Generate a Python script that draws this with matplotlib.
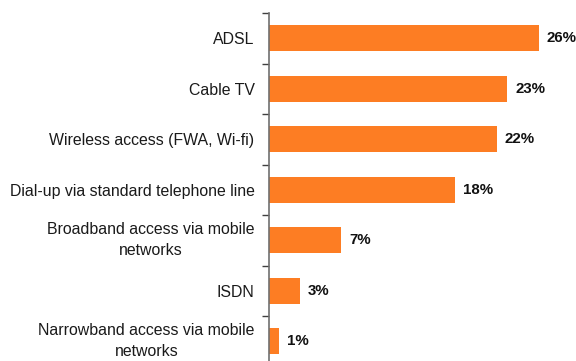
import matplotlib.pyplot as plt
import matplotlib.transforms as mtransforms
import numpy as np

plt.rcParams['font.family'] = ['Liberation Sans', 'DejaVu Sans']

# share of households by type of internet access (%)
categories = ['ADSL', 'Cable TV', 'Wireless access (FWA, Wi-fi)',
              'Dial-up via standard telephone line',
              'Broadband access via mobile\nnetworks', 'ISDN',
              'Narrowband access via mobile\nnetworks']
values = [26, 23, 22, 18, 7, 3, 1]
labels = ['26%', '23%', '22%', '18%', '7%', '3%', '1%']

fig = plt.figure(figsize=(5.76, 3.61), dpi=100)
ax = fig.add_axes([268.5 / 576, -5.5 / 361, 290.8 / 576, 353.5 / 361])

y = np.arange(len(categories))
ax.barh(y, values, height=0.515, color='#FD7D23', zorder=2)
for yi, v, lab in zip(y, values, labels):
    ax.text(v + 0.75, yi, lab, va='center', ha='left', fontsize=10.8,
            fontweight='bold', color='#111111')

ax.set_xlim(0, 28)
ax.set_ylim(len(categories) - 0.5, -0.5)

ax.set_yticks(y)
ax.set_yticklabels(categories, fontsize=11.4, color='#1a1a1a',
                   multialignment='center', linespacing=1.5)
ax.tick_params(axis='y', which='major', length=0, pad=10)
ax.set_yticks(np.arange(-0.5, len(categories), 1), minor=True)
ax.tick_params(axis='y', which='minor', length=5, width=1, color='#404040',
               direction='out')

# two-line labels sit a little low, nudge them up
lift = mtransforms.ScaledTranslation(0, 3.5 / 72, fig.dpi_scale_trans)
for t in ax.get_yticklabels():
    if '\n' in t.get_text():
        t.set_transform(t.get_transform() + lift)

ax.set_xticks([])
for side in ['top', 'right', 'bottom']:
    ax.spines[side].set_visible(False)
ax.spines['left'].set_color('#707070')
ax.spines['left'].set_linewidth(1.2)
ax.spines['left'].set_zorder(3)

fig.savefig('out.png', dpi=100)
